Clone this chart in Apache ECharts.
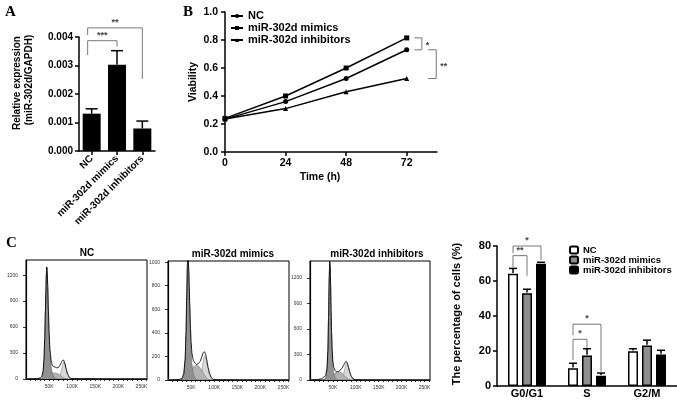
<!DOCTYPE html>
<html><head><meta charset="utf-8">
<script src="https://cdn.jsdelivr.net/npm/echarts@6/dist/echarts.min.js"></script>
<style>html,body{margin:0;padding:0;background:#fff}#c{width:677px;height:403px}</style>
</head><body><div id="c"></div>
<script>
// ---------- Panel A ----------
const aCategories = ['NC', 'miR-302d mimics', 'miR-302d inhibitors'];
const aValues = [0.00131, 0.00303, 0.00079];
const aErrors = [0.00017, 0.00049, 0.00026];
const aTicks = [0, 0.001, 0.002, 0.003, 0.004];
// [fromIdx, toIdx, top, leftLegBottom, rightLegBottom]
const aSig = [[0, 1, 0.00387, 0.00337, 0.00366], [0, 2, 0.00432, 0.00407, 0.00253]];
const aSigLabels = ['***', '**'];

// ---------- Panel B ----------
const bTimes = [0, 24, 48, 72];
const bNC = [0.235, 0.36, 0.525, 0.73];
const bMimics = [0.24, 0.40, 0.60, 0.815];
const bInhib = [0.235, 0.31, 0.43, 0.525];
const bSigLabels = ['*', '**'];

// ---------- Panel C (cell-cycle histograms, x in K) ----------
const hX = [0,15,25,30,34,37,39,40.5,42,43,44,45,46,47,48.5,50,52,55,58,62,66,70,73,76,78,80,82,84,87,90,94,98,105,125,130,132,134,160,200,262];
const hNCTotal = [0,2,5,12,30,90,235,465,790,1010,1210,1295,1240,1085,795,540,330,185,150,140,130,132,152,186,206,220,214,184,120,60,20,6,3,2,4,9,3,1,0,0];
const hNCG1 = [0,0,0,0,15,80,220,450,780,1000,1200,1285,1220,1060,760,500,280,120,45,12,3,0,0,0,0,0,0,0,0,0,0,0,0,0,0,0,0,0,0,0];
const hNCS = [0,0,0,0,0,0,0,0,0,5,10,15,20,27,35,42,52,62,68,70,66,58,48,36,28,20,13,7,2,0,0,0,0,0,0,0,0,0,0,0];
const hNCG2 = [0,0,0,0,0,0,0,0,0,0,0,0,0,0,0,0,0,0,0,0,0,8,30,80,130,180,200,175,105,45,12,2,0,0,0,0,0,0,0,0];
const hMimTotal = [0,2,5,14,50,170,400,700,980,1040,1020,930,800,650,460,320,220,165,145,132,140,160,195,230,240,235,210,170,105,55,20,6,2,1,1,1,1,0,0,0];
const hMimG1 = [0,0,0,0,45,160,380,680,960,1030,1000,900,760,600,400,250,130,50,15,3,0,0,0,0,0,0,0,0,0,0,0,0,0,0,0,0,0,0,0,0];
const hMimS = [0,0,0,0,0,0,0,0,0,8,15,25,35,45,60,75,92,110,122,125,118,100,82,62,48,36,25,15,6,2,0,0,0,0,0,0,0,0,0,0];
const hMimG2 = [0,0,0,0,0,0,0,0,0,0,0,0,0,0,0,0,0,0,0,0,5,25,70,150,195,200,180,145,90,45,15,3,0,0,0,0,0,0,0,0];
const hInhTotal = [0,3,15,35,52,130,340,740,1220,1400,1350,1130,830,580,350,215,145,110,98,100,115,140,170,200,215,215,190,150,90,45,15,5,2,1,1,1,1,0,0,0];
const hInhG1 = [0,0,0,0,30,110,320,720,1200,1390,1330,1100,800,540,300,160,75,25,6,0,0,0,0,0,0,0,0,0,0,0,0,0,0,0,0,0,0,0,0,0];
const hInhS = [0,0,0,0,0,0,0,0,0,5,10,18,26,34,45,55,68,82,92,95,90,78,62,45,34,25,16,9,3,0,0,0,0,0,0,0,0,0,0,0];
const hInhG2 = [0,0,0,0,0,0,0,0,0,0,0,0,0,0,0,0,0,0,0,0,3,20,60,130,180,200,180,140,85,40,12,3,0,0,0,0,0,0,0,0];
const hTitles = ['NC', 'miR-302d mimics', 'miR-302d inhibitors'];
const hXTicks = [50, 100, 150, 200, 250];
const hYTicksNC = [0, 300, 600, 900, 1200];
const hYTicksMim = [0, 200, 400, 600, 800, 1000];
const hYTicksInh = [0, 300, 600, 900, 1200];

// ---------- Panel D ----------
const dPhases = ['G0/G1', 'S', 'G2/M'];
const dGroups = ['NC', 'miR-302d mimics', 'miR-302d inhibitors'];
const dNC = [64.2, 10.2, 19.8];
const dNCErr = [3.0, 2.8, 1.5];
const dMimics = [53.0, 17.4, 23.2];
const dMimicsErr = [2.3, 3.9, 3.0];
const dInhib = [69.9, 5.9, 18.0];
const dInhibErr = [0.8, 1.5, 2.4];
const dTicks = [0, 20, 40, 60, 80];
// [phaseIdx, fromBar, toBar, top, leftLegBottom, rightLegBottom]
const dSig = [[0,0,1,74.5,68,63],[0,0,2,80,76,72],[1,0,1,26.7,14.9,21.9],[1,0,2,35.3,29.1,8.2]];
const dSigLabels = ['**', '*', '*', '*'];

// ---------- build ----------
const FONT = '"Liberation Sans", Arial, Helvetica, sans-serif';
const SERIF = '"Liberation Serif", "Times New Roman", serif';
const chart = echarts.init(document.getElementById('c'));
const lbl = (size, extra) => Object.assign({color: '#000', fontFamily: FONT, fontWeight: 'bold', fontSize: size}, extra || {});
const axLine = w => ({show: true, lineStyle: {color: '#000', width: w}});
const pairs = (xs, ys) => xs.map((x, i) => [x, ys[i]]);

const grids = [
  {left: 79, top: 37, width: 76, height: 114},
  {left: 225, top: 12, width: 212, height: 140},
  {left: 497, top: 246, width: 180, height: 140},
  {left: 26, top: 260, width: 121, height: 119, show: true, borderColor: '#000', borderWidth: 1},
  {left: 168, top: 261, width: 121, height: 119, show: true, borderColor: '#000', borderWidth: 1},
  {left: 310, top: 261, width: 120, height: 119, show: true, borderColor: '#000', borderWidth: 1}
].map(g => Object.assign({containLabel: false, outerBoundsMode: 'none'}, g));

const xAxes = [
  {gridIndex: 0, type: 'category', data: aCategories, axisLine: axLine(1.5),
   axisTick: {show: true, alignWithLabel: true, length: 4, lineStyle: {width: 1.5}},
   axisLabel: lbl(10, {rotate: 45, interval: 0, margin: 6})},
  {gridIndex: 1, type: 'value', min: 0, max: 84, axisLine: axLine(1.5), splitLine: {show: false},
   axisTick: {show: true, length: 4, lineStyle: {width: 1.5}, customValues: bTimes},
   axisLabel: lbl(10.5, {margin: 6, customValues: bTimes})},
  {gridIndex: 2, type: 'category', data: dPhases, axisLine: axLine(1.5), axisTick: {show: false},
   axisLabel: lbl(11, {margin: 2, interval: 0})}
];
const yAxes = [
  {gridIndex: 0, type: 'value', min: 0, max: 0.004, interval: 0.001, axisLine: axLine(1.5), splitLine: {show: false},
   axisTick: {show: true, length: 4, lineStyle: {width: 1.5}},
   axisLabel: lbl(10, {margin: 6, formatter: v => v.toFixed(3), customValues: aTicks})},
  {gridIndex: 1, type: 'value', min: 0, max: 1, interval: 0.2, axisLine: axLine(1.5), splitLine: {show: false},
   axisTick: {show: true, length: 4, lineStyle: {width: 1.5}},
   axisLabel: lbl(10.5, {margin: 7, formatter: v => v.toFixed(1)})},
  {gridIndex: 2, type: 'value', min: 0, max: 80, interval: 20, axisLine: axLine(1.5), splitLine: {show: false},
   axisTick: {show: true, length: 4, lineStyle: {width: 1.5}},
   axisLabel: lbl(11, {margin: 6, customValues: dTicks})}
];
const histSets = [
  {total: hNCTotal, g1: hNCG1, s: hNCS, g2: hNCG2, max: 1375, ticks: hYTicksNC},
  {total: hMimTotal, g1: hMimG1, s: hMimS, g2: hMimG2, max: 1010, ticks: hYTicksMim},
  {total: hInhTotal, g1: hInhG1, s: hInhS, g2: hInhG2, max: 1400, ticks: hYTicksInh}
];
const minorX = [];
for (let v = 10; v <= 260; v += 10) minorX.push(v);
histSets.forEach((h, k) => {
  xAxes.push({gridIndex: 3 + k, type: 'value', min: 0, max: 262, axisLine: axLine(1.2), splitLine: {show: false},
    axisTick: {show: true, length: 2, lineStyle: {width: 0.8}, customValues: minorX},
    axisLabel: {color: '#333', fontFamily: FONT, fontSize: 5, margin: 5, customValues: hXTicks, formatter: v => v + 'K'}});
  yAxes.push({gridIndex: 3 + k, type: 'value', min: 0, max: h.max, axisLine: axLine(1.2), splitLine: {show: false},
    axisTick: {show: true, length: 3, lineStyle: {width: 0.8}, customValues: h.ticks},
    axisLabel: {color: '#333', fontFamily: FONT, fontSize: 5, margin: 8, customValues: h.ticks, formatter: v => String(v)}});
});

const series = [];
// Panel A bars
series.push({type: 'bar', xAxisIndex: 0, yAxisIndex: 0, data: aValues, barWidth: 18, itemStyle: {color: '#000'}});
series.push({type: 'custom', xAxisIndex: 0, yAxisIndex: 0, z: 5, encode: {x: 0, y: 1},
  data: aValues.map((v, i) => [i, v, aErrors[i]]),
  renderItem: (p, api) => {
    const a = api.coord([api.value(0), api.value(1)]);
    const b = api.coord([api.value(0), api.value(1) + api.value(2)]);
    const st = {stroke: '#000', lineWidth: 1.5};
    return {type: 'group', children: [
      {type: 'line', shape: {x1: a[0], y1: a[1], x2: b[0], y2: b[1]}, style: st},
      {type: 'line', shape: {x1: b[0] - 6, y1: b[1], x2: b[0] + 6, y2: b[1]}, style: st}]};
  }});
series.push({type: 'custom', xAxisIndex: 0, yAxisIndex: 0, z: 5, encode: {x: 0, y: 2},
  data: aSig,
  renderItem: (p, api) => {
    const xl = api.coord([api.value(0), 0])[0] - 4, xr = api.coord([api.value(1), 0])[0];
    const yt = api.coord([0, api.value(2)])[1], yl = api.coord([0, api.value(3)])[1], yr = api.coord([0, api.value(4)])[1];
    return {type: 'group', children: [
      {type: 'polyline', shape: {points: [[xl, yl], [xl, yt], [xr, yt], [xr, yr]]}, style: {stroke: '#777', lineWidth: 1, fill: null}},
      {type: 'text', style: {x: (xl + xr) / 2, y: yt - 1, text: aSigLabels[p.dataIndex], align: 'center', verticalAlign: 'bottom', font: 'bold 9px ' + FONT, fill: '#444'}}]};
  }});
// Panel B lines
[[bNC, 'NC', 'circle', 5], [bMimics, 'miR-302d mimics', 'rect', 5], [bInhib, 'miR-302d inhibitors', 'triangle', 5]].forEach(([d, n, sym, sz]) => {
  series.push({type: 'line', name: n, xAxisIndex: 1, yAxisIndex: 1, data: pairs(bTimes, d), symbol: sym, symbolSize: sz,
    showAllSymbol: true, lineStyle: {color: '#000', width: 1.5}, itemStyle: {color: '#000'}});
});
const last = bTimes.length - 1;
series.push({type: 'custom', xAxisIndex: 1, yAxisIndex: 1, z: 5, encode: {x: 1, y: 2},
  data: [[75, 78, bMimics[last], bNC[last]], [80.5, 83.7, bNC[last], bInhib[last]]],
  renderItem: (p, api) => {
    const x1 = api.coord([api.value(0), 0])[0], x2 = api.coord([api.value(1), 0])[0];
    const yt = api.coord([0, api.value(2)])[1], yb = api.coord([0, api.value(3)])[1];
    return {type: 'group', children: [
      {type: 'polyline', shape: {points: [[x1, yt], [x2, yt], [x2, yb], [x1, yb]]}, style: {stroke: '#777', lineWidth: 1, fill: null}},
      {type: 'text', style: {x: x2 + 4, y: (yt + yb) / 2 + 2, text: bSigLabels[p.dataIndex], align: 'left', verticalAlign: 'middle', font: 'bold 9px ' + FONT, fill: '#444'}}]};
  }});
// Panel C histograms
histSets.forEach((h, k) => {
  const common = {type: 'line', xAxisIndex: 3 + k, yAxisIndex: 3 + k, symbol: 'none', smooth: 0.2, smoothMonotone: 'x', silent: true};
  series.push(Object.assign({}, common, {data: pairs(hX, h.g2), z: 2, lineStyle: {color: '#8a8a8a', width: 0.6}, areaStyle: {color: '#d8d8d8', opacity: 1}}));
  series.push(Object.assign({}, common, {data: pairs(hX, h.s), z: 3, lineStyle: {color: '#777', width: 0.6}, areaStyle: {color: '#b2b2b2', opacity: 1}}));
  series.push(Object.assign({}, common, {data: pairs(hX, h.g1), z: 4, lineStyle: {color: '#666', width: 0.6}, areaStyle: {color: '#909090', opacity: 1}}));
  series.push(Object.assign({}, common, {data: pairs(hX, h.total), z: 5, lineStyle: {color: '#000', width: 0.9}}));
});
// Panel D bars
const dSeriesData = [[dNC, dNCErr, '#fff'], [dMimics, dMimicsErr, '#8f8f8f'], [dInhib, dInhibErr, '#000']];
dSeriesData.forEach(([vals, errs, col], s) => {
  series.push({type: 'bar', name: 'D_' + dGroups[s], xAxisIndex: 2, yAxisIndex: 2, data: vals, barWidth: 10, barGap: '40%',
    itemStyle: {color: col, borderColor: '#000', borderWidth: 1.5}});
});
dSeriesData.forEach(([vals, errs], s) => {
  series.push({type: 'custom', xAxisIndex: 2, yAxisIndex: 2, z: 5, encode: {x: 0, y: 1},
    data: vals.map((v, i) => [i, v, errs[i]]),
    renderItem: (p, api) => {
      const off = (s - 1) * 14;
      const a = api.coord([api.value(0), api.value(1)]);
      const b = api.coord([api.value(0), api.value(1) + api.value(2)]);
      const st = {stroke: '#000', lineWidth: 1.5};
      return {type: 'group', children: [
        {type: 'line', shape: {x1: a[0] + off, y1: a[1] - 0.75, x2: b[0] + off, y2: b[1]}, style: st},
        {type: 'line', shape: {x1: b[0] + off - 4, y1: b[1], x2: b[0] + off + 4, y2: b[1]}, style: st}]};
    }});
});
series.push({type: 'custom', xAxisIndex: 2, yAxisIndex: 2, z: 5, encode: {x: 0, y: 3},
  data: dSig,
  renderItem: (p, api) => {
    const cx = api.coord([api.value(0), 0])[0];
    const xl = cx + (api.value(1) - 1) * 14, xr = cx + (api.value(2) - 1) * 14;
    const yt = api.coord([0, api.value(3)])[1], yl = api.coord([0, api.value(4)])[1], yr = api.coord([0, api.value(5)])[1];
    return {type: 'group', children: [
      {type: 'polyline', shape: {points: [[xl, yl], [xl, yt], [xr, yt], [xr, yr]]}, style: {stroke: '#777', lineWidth: 1, fill: null}},
      {type: 'text', style: {x: (xl + xr) / 2, y: yt - 1, text: dSigLabels[p.dataIndex], align: 'center', verticalAlign: 'bottom', font: 'bold 9px ' + FONT, fill: '#444'}}]};
  }});

const txt = (x, y, text, font, rot, align) => ({type: 'text', x: x, y: y, rotation: rot || 0, silent: true,
  style: {text: text, font: font, fill: '#000', align: align || 'center', verticalAlign: 'middle'}});
const graphics = [
  txt(5, 12, 'A', 'bold 15px ' + SERIF, 0, 'left'),
  txt(183, 12, 'B', 'bold 15px ' + SERIF, 0, 'left'),
  txt(6, 243, 'C', 'bold 15px ' + SERIF, 0, 'left'),
  txt(17, 83, 'Relative expression', 'bold 10px ' + FONT, Math.PI / 2),
  txt(29, 80, '(miR-302d/GAPDH)', 'bold 10px ' + FONT, Math.PI / 2),
  txt(193, 82, 'Viability', 'bold 10.5px ' + FONT, Math.PI / 2),
  txt(320, 177, 'Time (h)', 'bold 10.5px ' + FONT),
  txt(457, 314, 'The percentage of cells (%)', 'bold 11px ' + FONT, Math.PI / 2),
  txt(87, 253, hTitles[0], 'bold 10px ' + FONT),
  txt(233, 254, hTitles[1], 'bold 10px ' + FONT),
  txt(377, 254, hTitles[2], 'bold 10px ' + FONT)
];

chart.setOption({
  animation: false,
  backgroundColor: '#fff',
  grid: grids,
  xAxis: xAxes,
  yAxis: yAxes,
  legend: [
    {left: 230, top: 10, padding: 0, orient: 'vertical', itemWidth: 12, itemHeight: 5, itemGap: 0, selectedMode: false,
     textStyle: lbl(11, {lineHeight: 12}), data: ['NC', 'miR-302d mimics', 'miR-302d inhibitors']},
    {left: 569, top: 245, padding: 0, orient: 'vertical', itemWidth: 8, itemHeight: 7, itemGap: 0, selectedMode: false,
     textStyle: lbl(9.5, {lineHeight: 9}), data: dGroups.map(g => 'D_' + g), formatter: n => n.slice(2)}
  ],
  graphic: graphics,
  series: series
});
</script></body></html>
